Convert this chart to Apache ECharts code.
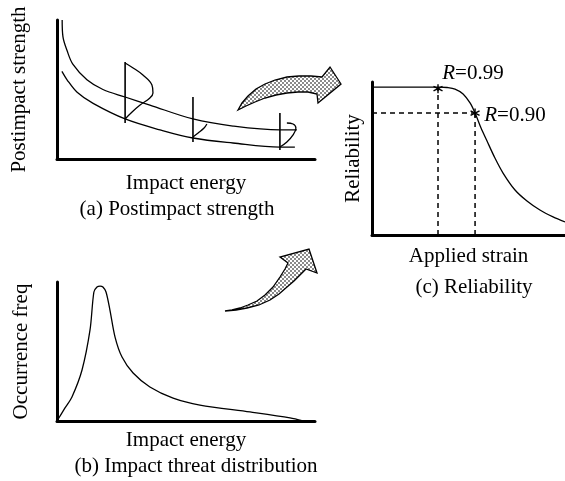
<!DOCTYPE html>
<html>
<head>
<meta charset="utf-8">
<script src="https://cdn.jsdelivr.net/npm/echarts@6/dist/echarts.min.js"></script>
<style>
  html, body { margin: 0; padding: 0; background: #fff; }
  #chart { width: 565px; height: 481px; }
</style>
</head>
<body>
<div id="chart"></div>
<script>
// Schematic: impact strength + threat distribution -> reliability curve.
// All panels use 0..100 units on both axes (no tick values in the figure).

// --- (a) Postimpact strength ---------------------------------------------------
var strengthUpper = [[2, 100], [2.3, 88], [3.9, 78], [6.2, 68], [11.6, 57], [17.8, 50], [26.4, 44.6],
  [36, 38.8], [52.7, 28.8], [68.2, 23.7], [86.4, 20.9], [93, 20.9]];
var strengthLower = [[1.9, 63], [3.9, 57], [7.8, 48], [14, 40], [26.4, 28.8], [39.9, 21], [52.7, 15.1],
  [68.2, 11.5], [86.4, 8.6], [92.2, 8.6]];
var scatterBars = [
  [[26.4, 69.8], [26.4, 25.9]],
  [[52.7, 44.6], [52.7, 12.2]],
  [[86.4, 33.1], [86.4, 6.5]]
];
var scatterPdfs = [
  [[26.4, 69.1], [29.5, 65.5], [33.3, 60.4], [36.8, 53.2], [37.2, 47.5], [36, 43.9], [32.2, 38.8], [29.1, 33.8], [26.4, 28.8]],
  [[52.7, 15.8], [54.7, 18.7], [57, 22.3], [58.1, 25.2]],
  [[89.1, 25.9], [91.5, 25.2], [92.6, 22.3], [91.5, 17.3], [89.1, 12.2], [86.4, 8.6]]
];

// --- (b) Impact threat distribution -------------------------------------------
var threatFreq = [[0, 0], [3.1, 9.4], [5.8, 17.3], [9.7, 36.7], [12.8, 65.5], [14.3, 92.8], [15.5, 96.4],
  [16.7, 97.1], [17.8, 96.4], [19, 92.8], [20.5, 80], [22.5, 60.4], [25.2, 46], [29.5, 34.5], [36, 24.5],
  [45, 16.5], [55.4, 11.5], [74.8, 6.5], [90.3, 2.2], [95.3, 0]];

// --- (c) Reliability ------------------------------------------------------------
var reliabilityCurve = [[0, 96.7], [35.2, 96.7], [38.9, 96.4], [43, 95.4], [47.2, 92.2], [50.8, 86.3],
  [53.4, 79.7], [56.5, 69.9], [59.6, 61.4], [63.7, 50.3], [67.9, 40.5], [74.1, 29.4], [80.3, 22.2],
  [87, 16.3], [93.8, 11.8], [100, 8.5]];
var reliabilityMarks = [[34.2, 95.6], [53.4, 79.7]];
var reliabilityLabels = ['0.99', '0.90'];

// --- Hatched arrows (page units, 0..565 x 0..481) ------------------------------
var arrowTop = [[238, 110], [242, 103], [248, 96], [256, 89], [265, 84], [275, 80], [287, 77], [299, 76],
  [311, 76], [322, 77], [330, 67], [341, 84], [318, 103], [317, 94], [308, 92], [298, 92], [287, 93],
  [276, 95], [265, 98], [255, 102], [246, 106], [238, 110]];
var arrowBottom = [[225, 311], [236, 310], [247, 308], [259, 305], [270, 300], [279, 294], [287, 287],
  [294, 281], [300, 275], [306, 269], [317, 273], [309, 249], [280, 257], [288, 263], [285, 269],
  [280, 277], [273, 287], [265, 295], [257, 301], [248, 305], [240, 308], [232, 310], [225, 311]];
var arrowOutlines = [arrowTop, arrowBottom];

var FONT = '"Liberation Serif", "Times New Roman", serif';

function hatchPattern() {
  var c = document.createElement('canvas');
  c.width = 4; c.height = 4;
  var ctx = c.getContext('2d');
  ctx.fillStyle = '#fff';
  ctx.fillRect(0, 0, 4, 4);
  ctx.fillStyle = '#8a8a8a';
  ctx.fillRect(0, 0, 2, 2);
  ctx.fillRect(2, 2, 2, 2);
  return c;
}

function axis(gridIndex, name, nameGap) {
  return {
    type: 'value', gridIndex: gridIndex, min: 0, max: 100,
    name: name, nameLocation: 'middle', nameGap: nameGap,
    nameTextStyle: { color: '#000', fontFamily: FONT, fontSize: 21 },
    axisLine: { show: true, onZero: false, lineStyle: { color: '#000', width: 3 } },
    axisTick: { show: false },
    axisLabel: { show: false },
    splitLine: { show: false }
  };
}

function curve(idx, data, extra) {
  return Object.assign({
    type: 'line', xAxisIndex: idx, yAxisIndex: idx, data: data,
    symbol: 'none', smooth: 0.35, silent: true,
    lineStyle: { color: '#000', width: 1.3 }
  }, extra || {});
}

var series = [];

// (a)
series.push(curve(0, strengthUpper));
series.push(curve(0, strengthLower));
scatterBars.forEach(function (b) { series.push(curve(0, b, { smooth: false, lineStyle: { color: '#000', width: 1.6 } })); });
scatterPdfs.forEach(function (p) { series.push(curve(0, p, { smooth: 0.4 })); });

// (b)
series.push(curve(1, threatFreq, { smooth: 0.3 }));

// (c) dashed guides built from the marked points
var dashStyle = { color: '#000', width: 1.5, type: [5, 4] };
series.push(curve(2, [[0, reliabilityMarks[1][1]], reliabilityMarks[1]], { smooth: false, lineStyle: dashStyle }));
reliabilityMarks.forEach(function (m, i) {
  var top = i === 0 ? reliabilityCurve[0][1] : m[1];
  series.push(curve(2, [[m[0], 0], [m[0], top]], { smooth: false, lineStyle: dashStyle }));
});
series.push(curve(2, reliabilityCurve, { smooth: 0.3 }));
series.push({
  type: 'scatter', xAxisIndex: 2, yAxisIndex: 2, silent: true,
  data: reliabilityMarks,
  symbol: 'path://M0,-5L0,5M-4.3,-2.5L4.3,2.5M-4.3,2.5L4.3,-2.5',
  symbolSize: 9,
  itemStyle: { color: 'transparent', borderColor: '#000', borderWidth: 1.4, opacity: 1 },
  label: {
    show: true, position: 'right', color: '#000', fontFamily: FONT, fontSize: 21,
    formatter: function (p) { return '{i|R}=' + reliabilityLabels[p.dataIndex]; },
    rich: { i: { fontStyle: 'italic', fontFamily: FONT, fontSize: 21, color: '#000' } }
  },
  labelLayout: function (p) {
    return p.dataIndex === 0 ? { dx: -6, dy: -15 } : { dx: -1, dy: 2 };
  }
});

// arrows on a hidden full-page grid
var hatch = hatchPattern();
series.push({
  type: 'custom', xAxisIndex: 3, yAxisIndex: 3, silent: true, clip: false,
  data: arrowOutlines.map(function (o, i) { return [i, 0]; }),
  renderItem: function (params, api) {
    var pts = arrowOutlines[params.dataIndex].map(function (p) { return api.coord(p); });
    return {
      type: 'polygon',
      shape: { points: pts },
      style: { fill: { image: hatch, repeat: 'repeat' }, stroke: '#000', lineWidth: 1.3 }
    };
  }
});

var chart = echarts.init(document.getElementById('chart'), null, { renderer: 'canvas' });
chart.setOption({
  animation: false,
  backgroundColor: '#fff',
  grid: [
    { left: 57, top: 20, width: 258, height: 139 },
    { left: 57, top: 282, width: 258, height: 139 },
    { left: 372, top: 82, width: 193, height: 153 },
    { left: 0, top: 0, width: 565, height: 481 }
  ],
  xAxis: [
    axis(0, 'Impact energy', 14),
    axis(1, 'Impact energy', 9),
    axis(2, 'Applied strain', 11),
    { type: 'value', gridIndex: 3, min: 0, max: 565, show: false }
  ],
  yAxis: [
    axis(0, 'Postimpact strength', 27),
    axis(1, 'Occurrence freq', 25),
    axis(2, 'Reliability', 8),
    { type: 'value', gridIndex: 3, min: 0, max: 481, inverse: true, show: false }
  ],
  graphic: [
    { type: 'text', x: 177, y: 209, style: { text: '(a) Postimpact strength', fontFamily: FONT, fontSize: 21, fill: '#000', align: 'center', verticalAlign: 'middle' } },
    { type: 'text', x: 196, y: 466, style: { text: '(b) Impact threat distribution', fontFamily: FONT, fontSize: 21, fill: '#000', align: 'center', verticalAlign: 'middle' } },
    { type: 'text', x: 474, y: 287, style: { text: '(c) Reliability', fontFamily: FONT, fontSize: 21, fill: '#000', align: 'center', verticalAlign: 'middle' } }
  ],
  series: series
});
</script>
</body>
</html>
